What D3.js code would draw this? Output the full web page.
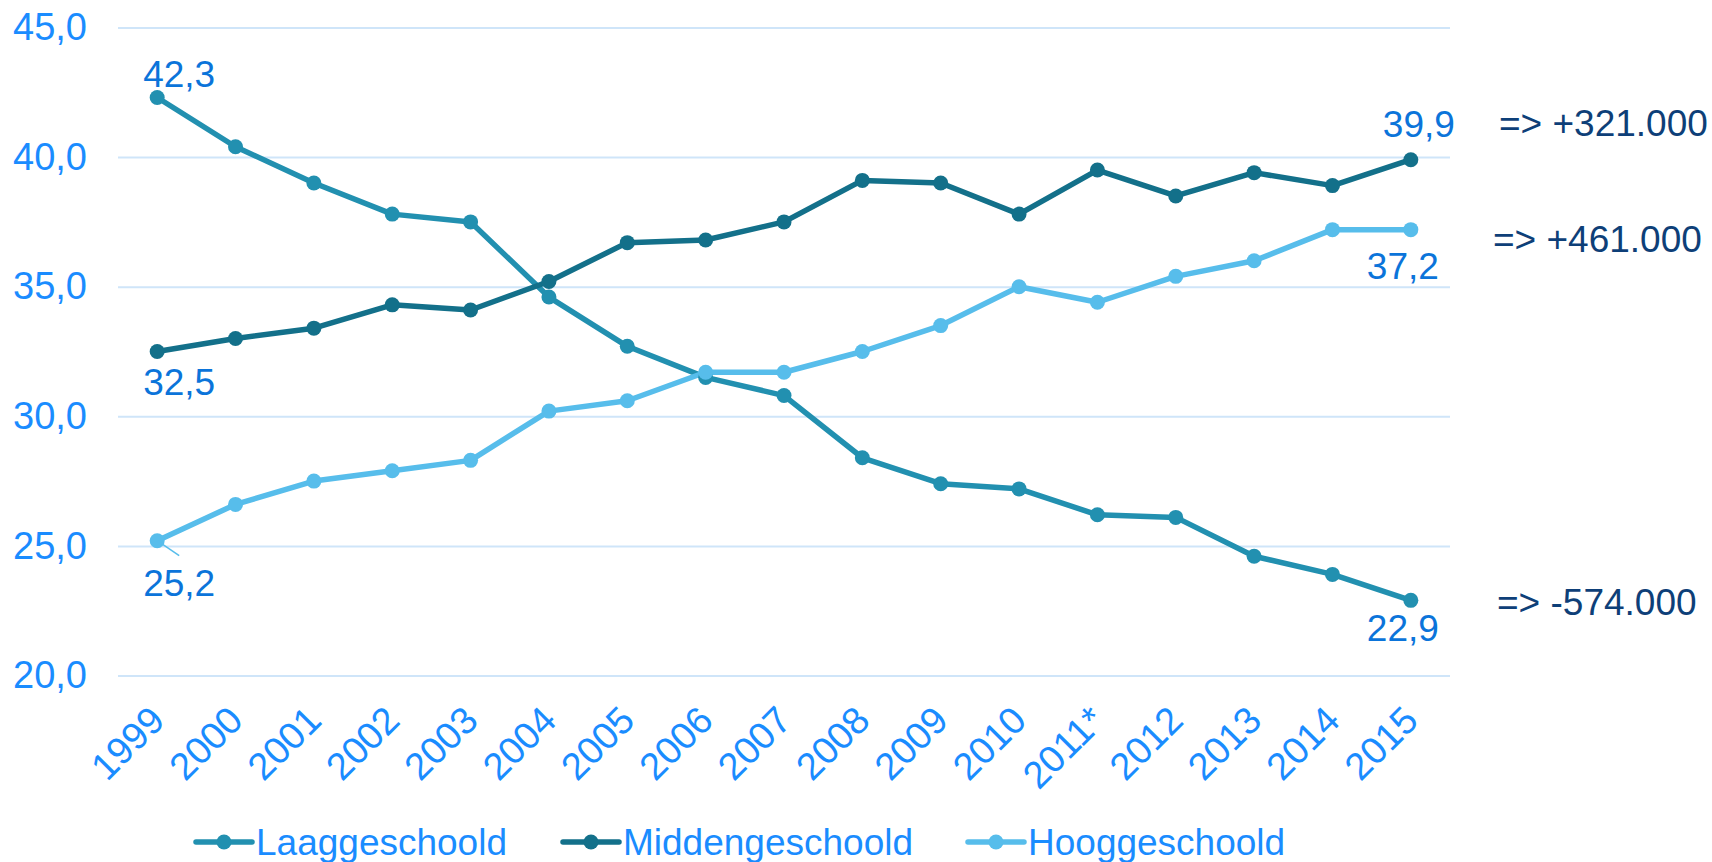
<!DOCTYPE html>
<html>
<head>
<meta charset="utf-8">
<script src="https://cdn.jsdelivr.net/npm/d3@7"></script>
<style>
  html, body { margin: 0; padding: 0; background: #fff; }
  svg text { font-family: "Liberation Sans", Arial, sans-serif; }
</style>
</head>
<body>
<div id="chart"></div>
<script>
(function() {
const width = 1712,
      height = 862

// data
const years = ['1999', '2000', '2001', '2002', '2003', '2004', '2005', '2006', '2007',
  '2008', '2009', '2010', '2011*', '2012', '2013', '2014', '2015']
const laag = [42.3, 40.4, 39.0, 37.8, 37.5, 34.6, 32.7, 31.5, 30.8, 28.4, 27.4, 27.2, 26.2, 26.1, 24.6, 23.9, 22.9]
const midden = [32.5, 33.0, 33.4, 34.3, 34.1, 35.2, 36.7, 36.8, 37.5, 39.1, 39.0, 37.8, 39.5, 38.5, 39.4, 38.9, 39.9]
const hoog = [25.2, 26.6, 27.5, 27.9, 28.3, 30.2, 30.6, 31.7, 31.7, 32.5, 33.5, 35.0, 34.4, 35.4, 36.0, 37.2, 37.2]
const seriesNames = ['Laaggeschoold', 'Middengeschoold', 'Hooggeschoold']
const yTicks = [20, 25, 30, 35, 40, 45]
const changes = ['=> -574.000', '=> +321.000', '=> +461.000']

const colors = ['#2290b0', '#13708a', '#57bdeb']
const series = [laag, midden, hoog].map(function(vals, i) {
  return { name: seriesNames[i], color: colors[i], values: vals, change: changes[i] }
})

const left = 118, right = 1450, top = 27.5, bottom = 675.5
const fmt = function(v) { return d3.format('.1f')(v).replace('.', ',') }

const svg = d3.select('#chart')
  .append('svg')
  .attr('width', width)
  .attr('height', height)

const x = d3.scalePoint()
  .domain(years)
  .range([left, right])
  .padding(0.5)

const y = d3.scaleLinear()
  .domain([20, 45])
  .range([bottom, top])

// gridlines + y labels
const yAxis = svg.append('g')
  .attr('transform', 'translate(' + left + ',0)')
  .call(d3.axisLeft(y).tickValues(yTicks).tickSize(-(right - left)).tickPadding(31).tickFormat(fmt))
yAxis.select('.domain').remove()
yAxis.selectAll('line').attr('stroke', '#cfe5f9').attr('stroke-width', 2)
yAxis.selectAll('text')
  .attr('fill', '#1a8cff')
  .style('font-size', '38px')

// x labels, rotated
const xAxis = svg.append('g')
  .attr('transform', 'translate(0,' + bottom + ')')
  .call(d3.axisBottom(x).tickSize(0).tickPadding(0))
xAxis.select('.domain').remove()
xAxis.selectAll('text')
  .attr('fill', '#1a8cff')
  .style('font-size', '38px')
  .attr('text-anchor', 'end')
  .attr('dy', 0)
  .attr('y', 0)
  .attr('transform', 'translate(9,47) rotate(-45)')

// lines
const line = d3.line()
  .x(function(d, i) { return x(years[i]) })
  .y(function(d) { return y(d) })

const g = svg.append('g')
series.forEach(function(s) {
  g.append('path')
    .datum(s.values)
    .attr('fill', 'none')
    .attr('stroke', s.color)
    .attr('stroke-width', 5.5)
    .attr('stroke-linejoin', 'round')
    .attr('d', line)
})
series.forEach(function(s) {
  g.selectAll(null)
    .data(s.values)
    .enter().append('circle')
    .attr('cx', function(d, i) { return x(years[i]) })
    .attr('cy', function(d) { return y(d) })
    .attr('r', 7.5)
    .attr('fill', s.color)
})

// leader line for hoog 1999 label
svg.append('line')
  .attr('x1', x(years[0]))
  .attr('y1', y(hoog[0]))
  .attr('x2', x(years[0]) + 22)
  .attr('y2', y(hoog[0]) + 15)
  .attr('stroke', '#57bdeb')
  .attr('stroke-width', 1.5)

// first/last value labels
const last = years.length - 1
const labels = [
  { v: laag[0], i: 0, dx: -14, dy: -10 },
  { v: midden[0], i: 0, dx: -14, dy: 43 },
  { v: hoog[0], i: 0, dx: -14, dy: 55 },
  { v: midden[last], i: last, dx: -28, dy: -23 },
  { v: hoog[last], i: last, dx: -44, dy: 49 },
  { v: laag[last], i: last, dx: -44, dy: 41 }
]
svg.selectAll('.vlabel')
  .data(labels)
  .enter().append('text')
  .attr('class', 'vlabel')
  .attr('x', function(d) { return x(years[d.i]) + d.dx })
  .attr('y', function(d) { return y(d.v) + d.dy })
  .attr('fill', '#0b74da')
  .style('font-size', '37px')
  .text(function(d) { return fmt(d.v) })

// change annotations on the right
const notes = [
  { s: series[1], x: 1499, dy: -24 },
  { s: series[2], x: 1493, dy: 22 },
  { s: series[0], x: 1497, dy: 15 }
]
svg.selectAll('.note')
  .data(notes)
  .enter().append('text')
  .attr('class', 'note')
  .attr('x', function(d) { return d.x })
  .attr('y', function(d) { return y(d.s.values[last]) + d.dy })
  .attr('fill', '#0e3f78')
  .style('font-size', '37px')
  .text(function(d) { return d.s.change })

// legend
const legendX = [196, 563, 968]
const legend = svg.selectAll('.legend')
  .data(series)
  .enter().append('g')
  .attr('class', 'legend')
  .attr('transform', function(d, i) { return 'translate(' + legendX[i] + ',842)' })
legend.append('line')
  .attr('x1', 0).attr('x2', 56)
  .attr('stroke', function(d) { return d.color })
  .attr('stroke-width', 5.5)
  .attr('stroke-linecap', 'round')
legend.append('circle')
  .attr('cx', 28).attr('r', 7.5)
  .attr('fill', function(d) { return d.color })
legend.append('text')
  .attr('x', 60)
  .attr('y', 13)
  .attr('fill', '#1a8cff')
  .style('font-size', '37px')
  .text(function(d) { return d.name })

})()
</script>
</body>
</html>
